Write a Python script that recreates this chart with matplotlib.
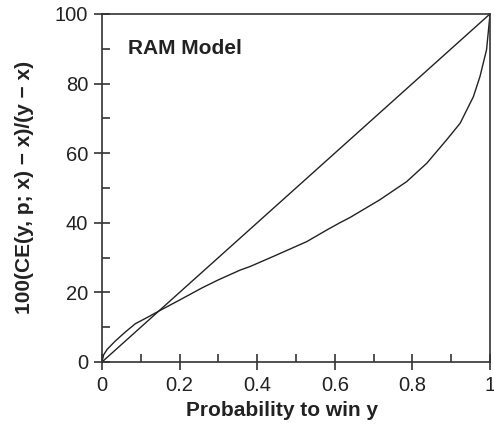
import numpy as np
import matplotlib.pyplot as plt
from matplotlib.ticker import MultipleLocator

plt.rcParams['font.family'] = ['Liberation Sans', 'DejaVu Sans']

# Diagonal (expected value line)
p_diag = [0.0, 1.0]
v_diag = [0.0, 100.0]

# RAM model curve
p_ram = [0.0, 0.004, 0.013, 0.034, 0.06, 0.086, 0.12, 0.146, 0.2, 0.258, 0.3,
         0.356, 0.381, 0.441, 0.528, 0.579, 0.613, 0.639, 0.716, 0.785, 0.837,
         0.888, 0.923, 0.957, 0.974, 0.991, 1.0]
v_ram = [0.0, 2.0, 3.6, 6.0, 8.6, 11.0, 13.0, 14.6, 17.8, 21.3, 23.6,
         26.4, 27.4, 30.3, 34.6, 37.9, 40.0, 41.5, 46.6, 51.8, 57.1,
         63.8, 68.6, 76.2, 82.0, 89.7, 100.0]

fig = plt.figure(figsize=(4.94, 4.48), dpi=100)
ax = fig.add_axes([0.2065, 0.192, 0.7855, 0.777])

ax.plot(p_diag, v_diag, color='#222222', lw=1.0)
ax.plot(p_ram, v_ram, color='#222222', lw=1.0)

ax.set_xlim(0, 1)
ax.set_ylim(0, 100)
ax.set_xticks([0, 0.2, 0.4, 0.6, 0.8, 1.0])
ax.set_xticklabels(['0', '0.2', '0.4', '0.6', '0.8', '1'])
ax.set_yticks([0, 20, 40, 60, 80, 100])
ax.xaxis.set_minor_locator(MultipleLocator(0.1))
ax.yaxis.set_minor_locator(MultipleLocator(10))
ax.tick_params(which='major', direction='inout', length=12, width=1.2,
               labelsize=14.5, color='#333333', labelcolor='#222222', pad=4)
ax.tick_params(which='minor', direction='in', length=6, width=1.2, color='#333333')
for s in ax.spines.values():
    s.set_linewidth(1.2)
    s.set_color('#333333')

ax.text(0.067, 0.902, 'RAM Model', transform=ax.transAxes, fontsize=15,
        fontweight='bold', color='#222222', va='center')

ax.set_xlabel('Probability to win y', fontsize=15, fontweight='bold',
              color='#222222', va='center')
ax.xaxis.set_label_coords(0.465, -0.138)
ax.set_ylabel('100(CE(y, p; x) \u2212 x)/(y \u2212 x)', fontsize=15,
              fontweight='bold', color='#222222', va='center')
ax.yaxis.set_label_coords(-0.2, 0.5)

fig.savefig('out.png', dpi=100)
